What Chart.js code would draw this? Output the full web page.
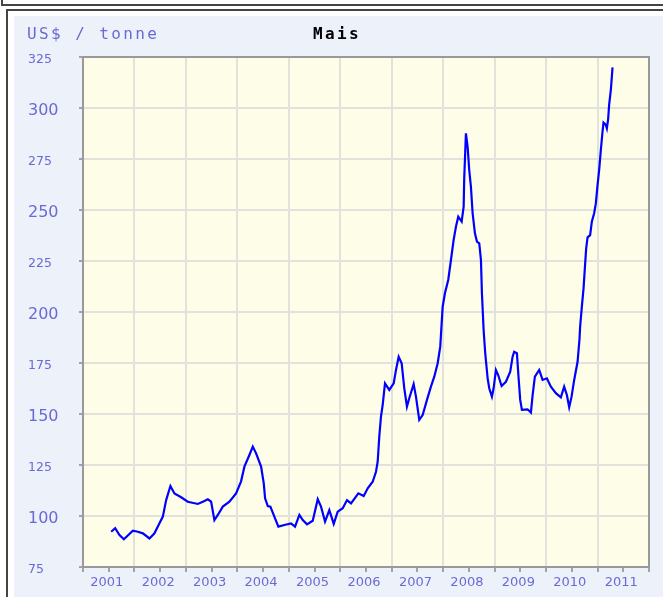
<!DOCTYPE html>
<html>
<head>
<meta charset="utf-8">
<script src="https://cdn.jsdelivr.net/npm/chart.js@4.4.1/dist/chart.umd.min.js"></script>
<style>
  html, body { margin: 0; padding: 0; background: #ffffff; width: 663px; height: 597px; overflow: hidden; }
  .box1 { position: absolute; left: 1px; top: -20px; width: 700px; height: 26px; border: 2px solid #444; box-sizing: border-box; }
  .box2 { position: absolute; left: 6px; top: 9px; width: 700px; height: 700px; border: 2px solid #444; box-sizing: border-box; }
  .panel { position: absolute; left: 14px; top: 16px; width: 649px; height: 581px; background: #edf1fa; }
  .wrap { position: absolute; left: 15px; top: 17px; width: 648px; height: 580px; }
</style>
</head>
<body>
<div class="box1"></div>
<div class="box2"></div>
<div class="panel"></div>
<div class="wrap"><canvas id="c" width="648" height="580"></canvas></div>
<script>
// ---- data (decimal year, US$ / tonne) ----
const years = [
  2001.548, 2001.625, 2001.709, 2001.794, 2001.969, 2002.066, 2002.163, 2002.292, 2002.389, 2002.486,
  2002.552, 2002.616, 2002.699, 2002.777, 2002.907, 2003.037, 2003.231, 2003.329, 2003.426, 2003.490,
  2003.554, 2003.620, 2003.717, 2003.845, 2003.975, 2004.072, 2004.137, 2004.234, 2004.300, 2004.364,
  2004.461, 2004.513, 2004.539, 2004.591, 2004.642, 2004.719, 2004.797, 2004.913, 2005.043, 2005.121,
  2005.205, 2005.271, 2005.354, 2005.465, 2005.562, 2005.626, 2005.704, 2005.787, 2005.873, 2005.950,
  2006.048, 2006.131, 2006.209, 2006.351, 2006.455, 2006.533, 2006.630, 2006.694, 2006.727, 2006.758,
  2006.791, 2006.824, 2006.869, 2006.953, 2007.038, 2007.083, 2007.135, 2007.193, 2007.244, 2007.296,
  2007.341, 2007.426, 2007.471, 2007.535, 2007.601, 2007.685, 2007.762, 2007.827, 2007.893, 2007.943,
  2007.990, 2008.034, 2008.098, 2008.151, 2008.203, 2008.248, 2008.293, 2008.359, 2008.398, 2008.409,
  2008.442, 2008.475, 2008.506, 2008.539, 2008.572, 2008.617, 2008.656, 2008.701, 2008.734, 2008.753,
  2008.786, 2008.817, 2008.864, 2008.895, 2008.947, 2008.980, 2009.025, 2009.069, 2009.135, 2009.219,
  2009.303, 2009.349, 2009.380, 2009.433, 2009.466, 2009.497, 2009.530, 2009.640, 2009.705, 2009.738,
  2009.782, 2009.866, 2009.932, 2010.015, 2010.093, 2010.190, 2010.287, 2010.351, 2010.404, 2010.449,
  2010.495, 2010.546, 2010.612, 2010.650, 2010.662, 2010.695, 2010.728, 2010.753, 2010.779, 2010.806,
  2010.856, 2010.889, 2010.934, 2010.967, 2011.000, 2011.031, 2011.064, 2011.097, 2011.116, 2011.161,
  2011.181, 2011.206, 2011.225, 2011.258, 2011.278, 2011.291
];
const prices = [
  92.3, 94.0, 90.7, 88.6, 92.8, 92.3, 91.5, 89.0, 91.5, 96.4,
  99.7, 107.8, 114.7, 111.0, 109.2, 107.0, 105.9, 107.0, 108.2, 107.0,
  98.0, 100.5, 104.6, 107.0, 111.1, 117.0, 124.2, 129.9, 134.0, 130.7,
  124.2, 116.0, 108.7, 104.9, 104.6, 99.7, 94.8, 95.6, 96.4, 94.8,
  100.5, 98.0, 95.9, 97.7, 108.2, 104.6, 97.2, 102.9, 96.1, 102.1,
  103.8, 107.8, 106.2, 111.1, 109.8, 113.6, 116.8, 121.7, 126.6, 138.9,
  148.7, 154.4, 165.0, 161.8, 165.0, 171.6, 178.1, 174.9, 162.6, 153.6,
  157.7, 164.7, 158.5, 147.1, 149.5, 156.9, 163.4, 168.3, 174.9, 183.0,
  202.6, 209.2, 215.7, 225.5, 235.3, 241.8, 246.7, 244.3, 251.6, 265.5,
  287.6, 281.0, 269.6, 261.4, 248.4, 238.6, 234.5, 233.7, 225.5, 209.2,
  191.2, 179.8, 167.5, 162.6, 158.5, 162.6, 171.6, 169.1, 163.7, 165.8,
  170.7, 178.1, 180.5, 179.8, 167.5, 156.9, 152.0, 152.3, 150.7, 159.3,
  168.3, 171.6, 166.7, 167.5, 163.4, 160.2, 158.2, 163.4, 159.3, 153.3,
  158.5, 166.7, 175.6, 187.0, 193.0, 202.6, 211.6, 221.4, 231.2, 236.6,
  237.7, 244.3, 248.4, 253.2, 262.2, 269.6, 279.4, 288.4, 292.8, 291.7,
  290.0, 294.5, 301.5, 308.8, 315.3, 319.9
];
const chartTitle = 'Mais';
const unitLabel = 'US$ / tonne';
const xMin = 2001, xMax = 2012;
const yMin = 75, yMax = 325, yStep = 25;

const labelColor = '#6a6ad4';
const gridColor = '#e2e2dc';

const decorPlugin = {
  id: 'decor',
  beforeDraw(chart) {
    const { ctx, chartArea: a } = chart;
    ctx.save();
    ctx.fillStyle = '#fefee8';
    ctx.fillRect(a.left, a.top, a.width, a.height);
    ctx.restore();
  },
  afterDraw(chart) {
    const { ctx, chartArea: a } = chart;
    ctx.save();
    ctx.strokeStyle = '#999999';
    ctx.lineWidth = 2;
    ctx.beginPath();
    ctx.moveTo(a.left, a.top);
    ctx.lineTo(a.right, a.top);
    ctx.lineTo(a.right, a.bottom);
    ctx.stroke();
    ctx.textBaseline = 'middle';
    ctx.textAlign = 'left';
    if ('letterSpacing' in ctx) ctx.letterSpacing = '2.4px';
    ctx.font = '16px "DejaVu Sans Mono"';
    ctx.fillStyle = labelColor;
    ctx.fillText(unitLabel, 12, 18);
    ctx.font = 'bold 16px "DejaVu Sans Mono"';
    ctx.fillStyle = '#000000';
    ctx.fillText(chartTitle, 298, 18);
    ctx.restore();
  }
};

new Chart(document.getElementById('c'), {
  type: 'line',
  data: {
    datasets: [{
      label: chartTitle,
      data: years.map((x, i) => ({ x: x, y: prices[i] })),
      borderColor: '#0000ff',
      borderWidth: 2.2,
      pointRadius: 0,
      tension: 0,
      fill: false
    }]
  },
  options: {
    responsive: false,
    animation: false,
    events: [],
    layout: { padding: { top: 40, left: 13, right: 14, bottom: 0 } },
    plugins: {
      legend: { display: false },
      title: { display: false },
      tooltip: { enabled: false }
    },
    scales: {
      x: {
        type: 'linear',
        min: xMin,
        max: xMax,
        afterFit(scale) { scale.height = 30; },
        afterBuildTicks(scale) {
          const t = [];
          for (let v = xMin; v <= xMax + 1e-9; v += 0.5) t.push({ value: v });
          scale.ticks = t;
        },
        grid: {
          color: (c) => (c.tick && Number.isInteger(c.tick.value)) ? gridColor : 'rgba(0,0,0,0)',
          lineWidth: 2,
          tickColor: '#888888',
          tickLength: 5,
          tickWidth: 1.5
        },
        border: { color: '#999999', width: 2 },
        ticks: {
          autoSkip: false,
          maxRotation: 0,
          padding: 3,
          labelOffset: -2,
          color: labelColor,
          font: { family: '"DejaVu Sans"', size: 13 },
          callback: (v) => Number.isInteger(v) ? '' : String(Math.floor(v))
        }
      },
      y: {
        min: yMin,
        max: yMax,
        afterFit(scale) { scale.width = 55; },
        grid: {
          color: gridColor,
          lineWidth: 2,
          tickColor: '#888888',
          tickLength: 4,
          tickWidth: 1.5
        },
        border: { color: '#999999', width: 2 },
        ticks: {
          stepSize: yStep,
          crossAlign: 'far',
          labelOffset: 3,
          color: labelColor,
          font: (c) => ({ family: '"DejaVu Sans"', size: (c.tick && c.tick.value % 50 === 0) ? 16 : 12.5 })
        }
      }
    }
  },
  plugins: [decorPlugin]
});
</script>
</body>
</html>
